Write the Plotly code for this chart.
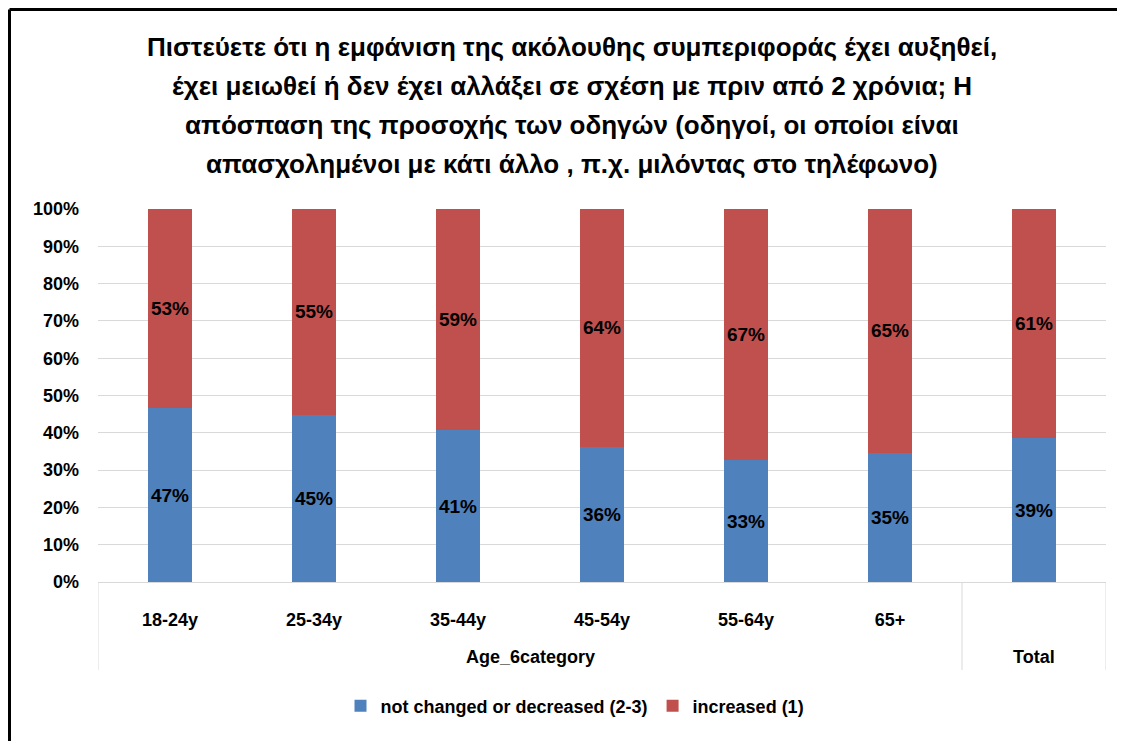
import plotly.graph_objects as go

categories = ["18-24y", "25-34y", "35-44y", "45-54y", "55-64y", "65+", ""]
group_labels = ["Age_6category", "Total"]
group_spans = [(0, 5), (6, 6)]
not_changed = [46.6, 44.9, 40.7, 36.2, 32.6, 34.6, 38.6]
increased = [53.4, 55.1, 59.3, 63.8, 67.4, 65.4, 61.4]
title_lines = [
    "Πιστεύετε ότι η εμφάνιση της ακόλουθης συμπεριφοράς έχει αυξηθεί,",
    "έχει μειωθεί ή δεν έχει αλλάξει σε σχέση με πριν από 2 χρόνια; Η",
    "απόσπαση της προσοχής των οδηγών (οδηγοί, οι οποίοι είναι",
    "απασχολημένοι με κάτι άλλο , π.χ. μιλόντας στο τηλέφωνο)",
]

FONT = "Liberation Sans Narrow, Arial Narrow, Liberation Sans, Arial, sans-serif"
OFF = 8  # page body margin
W, H = 1125 - OFF, 741 - OFF
L, T = 98 - OFF, 209 - OFF
R = W - (1106 - OFF)
B = H - (582 - OFF)
pw = W - L - R
ph = H - T - B

def py(page_y):
    return (582 - page_y) / ph

def px(page_x):
    return (page_x - 98) / pw

xs = list(range(len(categories)))

fig = go.Figure()
fig.add_trace(go.Bar(
    x=xs, y=not_changed, name="not changed or decreased (2-3)",
    marker=dict(color="#4f81bd", line=dict(width=0)),
    text=[f"{round(v)}%" for v in not_changed], textposition="inside",
    insidetextanchor="middle", textangle=0,
    textfont=dict(family=FONT, size=19, color="black", weight="bold"),
))
fig.add_trace(go.Bar(
    x=xs, y=increased, name="increased (1)",
    marker=dict(color="#c0504d", line=dict(width=0)),
    text=[f"{round(v)}%" for v in increased], textposition="inside",
    insidetextanchor="middle", textangle=0,
    textfont=dict(family=FONT, size=19, color="black", weight="bold"),
))

for i, line in enumerate(title_lines):
    fig.add_annotation(
        text=line, xref="paper", yref="paper",
        x=px(572), y=py(47 + i * 39),
        showarrow=False, xanchor="center", yanchor="middle",
        font=dict(family=FONT, size=26, color="black", weight="bold"),
    )

# group labels and dividers of the category axis
for label, (a, b) in zip(group_labels, group_spans):
    fig.add_annotation(
        text=label, xref="x", yref="paper", x=(a + b) / 2, y=py(657),
        showarrow=False, xanchor="center", yanchor="middle",
        font=dict(family=FONT, size=18, color="black", weight="bold"),
    )
for xd in [-0.5, 5.5, 6.5]:
    fig.add_shape(type="line", xref="x", yref="paper", x0=xd, x1=xd, y0=0, y1=py(670),
                  line=dict(color="#d9d9d9", width=1))

# figure border (left, top, right)
bl, br = px(9.5), px(1119)
bt, bb = py(9.5), py(741)
for x0, y0, x1, y1 in [(bl, bb, bl, bt), (bl, bt, br, bt), (br, bt, br, bb)]:
    fig.add_shape(type="line", xref="paper", yref="paper", x0=x0, y0=y0, x1=x1, y1=y1,
                  line=dict(color="black", width=3))

fig.update_layout(
    width=W, height=H,
    margin=dict(l=L, r=R, t=T, b=B, autoexpand=False),
    barmode="stack", bargap=0.69,
    plot_bgcolor="white", paper_bgcolor="white",
    font=dict(family=FONT, color="black"),
    showlegend=True,
    legend=dict(orientation="h", x=px(575), xanchor="center", y=py(706), yanchor="middle",
                font=dict(family=FONT, size=18, color="black", weight="bold"),
                traceorder="normal", itemwidth=30),
    xaxis=dict(
        range=[-0.5, 6.5], tickvals=xs, ticktext=categories,
        tickfont=dict(family=FONT, size=18, color="black", weight="bold"),
        showline=True, linecolor="#d9d9d9", linewidth=1,
        ticks="", showgrid=False, zeroline=False, ticklabelstandoff=21,
    ),
    yaxis=dict(
        range=[0, 100], tickvals=list(range(0, 101, 10)),
        ticktext=[f"{v}%" for v in range(0, 101, 10)],
        tickfont=dict(family=FONT, size=18, color="black", weight="bold"),
        showgrid=True, gridcolor="#d9d9d9", gridwidth=1,
        zeroline=False, ticks="", ticklabelstandoff=18,
    ),
)
fig.write_html("out.html")
